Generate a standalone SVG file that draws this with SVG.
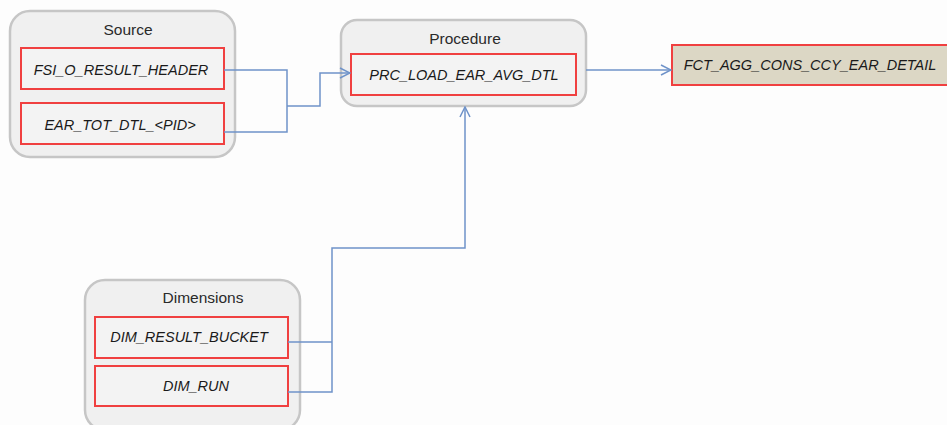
<svg xmlns="http://www.w3.org/2000/svg" width="947" height="425" viewBox="0 0 947 425">
<defs>
<marker id="arr" viewBox="0 0 12 12" refX="11" refY="6" markerWidth="12" markerHeight="12" markerUnits="userSpaceOnUse" orient="auto">
<path d="M1,1 L11,6 L1,11" fill="none" stroke="#6f93c9" stroke-width="1.5"/>
</marker>
<style>
.grp{fill:#f0f0f0;stroke:#c6c6c6;stroke-width:2.5}
.box{fill:#f3f3f3;stroke:#f04040;stroke-width:2}
.tgt{fill:#dcd7c5;stroke:#f04040;stroke-width:2}
.title{font-family:"Liberation Sans",Arial,sans-serif;font-size:15.5px;fill:#2a2a2a;text-anchor:middle}
.lbl{font-family:"Liberation Sans",Arial,sans-serif;font-size:14.5px;font-style:italic;fill:#1a1a1a;text-anchor:middle}
.conn{fill:none;stroke:#6f93c9;stroke-width:1.5}
</style>
</defs>
<rect width="947" height="425" fill="#fdfdfd"/>
<g id="source">
<rect class="grp" x="10" y="11" width="225" height="146" rx="20"/>
<text class="title" x="128" y="35">Source</text>
</g>
<g id="fsi_o_result_header">
<rect class="box" x="21" y="48" width="203" height="41"/>
<text class="lbl" x="121" y="75">FSI_O_RESULT_HEADER</text>
</g>
<g id="ear_tot_dtl">
<rect class="box" x="21" y="103" width="203" height="41"/>
<text class="lbl" x="120" y="130">EAR_TOT_DTL_&lt;PID&gt;</text>
</g>
<g id="procedure">
<rect class="grp" x="341" y="20" width="245" height="86" rx="16"/>
<text class="title" x="465" y="44">Procedure</text>
</g>
<g id="prc_load_ear_avg_dtl">
<rect class="box" x="351" y="54" width="225" height="41"/>
<text class="lbl" x="464" y="80">PRC_LOAD_EAR_AVG_DTL</text>
</g>
<g id="fct_agg_cons_ccy_ear_detail">
<rect class="tgt" x="672" y="45" width="290" height="40"/>
<text class="lbl" x="810" y="70">FCT_AGG_CONS_CCY_EAR_DETAIL</text>
</g>
<g id="dimensions">
<rect class="grp" x="85" y="280" width="215" height="150" rx="20"/>
<text class="title" x="203" y="303">Dimensions</text>
</g>
<g id="dim_result_bucket">
<rect class="box" x="95" y="317" width="193" height="41"/>
<text class="lbl" x="189" y="342">DIM_RESULT_BUCKET</text>
</g>
<g id="dim_run">
<rect class="box" x="95" y="366" width="193" height="40"/>
<text class="lbl" x="196" y="391">DIM_RUN</text>
</g>
<g id="connectors">
<path class="conn" d="M224,70 H287 V132 H224"/>
<path class="conn" d="M287,106 H320 V73 H350" marker-end="url(#arr)"/>
<path class="conn" d="M586,70 H671" marker-end="url(#arr)"/>
<path class="conn" d="M288,342 H332 M288,392 H332 V248 H465 V107" marker-end="url(#arr)"/>
</g>
</svg>
